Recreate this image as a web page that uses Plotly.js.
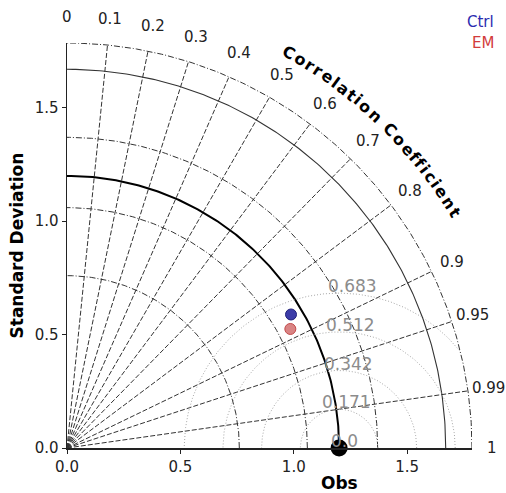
<!DOCTYPE html>
<html><head><meta charset="utf-8">
<script src="https://cdn.plot.ly/plotly-3.0.1.min.js"></script>
<style>html,body{margin:0;padding:0;background:#fff}</style>
</head><body><div id="chart" style="width:506px;height:493px"></div>
<script>
// ---- data ----
const corrTicks = [0, 0.1, 0.2, 0.3, 0.4, 0.5, 0.6, 0.7, 0.8, 0.9, 0.95, 0.99, 1];
const corrTickLabels = ['0', '0.1', '0.2', '0.3', '0.4', '0.5', '0.6', '0.7', '0.8', '0.9', '0.95', '0.99', '1'];
const stdTicks = [0, 0.5, 1.0, 1.5];
const stdTickLabels = ['0.0', '0.5', '1.0', '1.5'];
const stdArcsDashDot = [0.76, 1.06, 1.37];
const stdArcsSolid = [1.67];
const refStd = 1.2;
const maxStd = 1.786;
const rmsLevels = [0.0, 0.171, 0.342, 0.512, 0.683];
const rmsLabels = ['0.0', '0.171', '0.342', '0.512', '0.683'];
const modelNames = ['Ctrl', 'EM'];
const modelStd = [1.150, 1.116];
const modelCorr = [0.859, 0.8825];
const refName = 'Obs';
const corrTitle = 'Correlation Coefficient';
const stdTitle = 'Standard Deviation';

// ---- styles ----
const FONT = '"DejaVu Sans", sans-serif';
const gridColor = '#333';
const modelFill = ['#3c3ca8', '#d98484'];
const modelEdge = ['#23237a', '#c24a4a'];
const legendColor = ['#2b2bb0', '#d23c3c'];

const traces = [];
function arcXY(r, n) {
  const x = [], y = [];
  for (let i = 0; i <= n; i++) { const t = Math.PI / 2 * i / n; x.push(r * Math.cos(t)); y.push(r * Math.sin(t)); }
  return {x, y};
}
// radial correlation lines
corrTicks.forEach(c => {
  if (c <= 0 || c >= 1) return;
  const t = Math.acos(c);
  traces.push({type: 'scatter', mode: 'lines', x: [0, maxStd * Math.cos(t)], y: [0, maxStd * Math.sin(t)],
    line: {color: gridColor, width: 1, dash: '5px,2px'}, hoverinfo: 'skip', showlegend: false});
});
// std arcs
stdArcsDashDot.concat([maxStd]).forEach(r => {
  const a = arcXY(r, 200);
  traces.push({type: 'scatter', mode: 'lines', x: a.x, y: a.y,
    line: {color: gridColor, width: 1, dash: '6px,2px,1px,2px'}, hoverinfo: 'skip', showlegend: false});
});
stdArcsSolid.forEach(r => {
  const a = arcXY(r, 200);
  traces.push({type: 'scatter', mode: 'lines', x: a.x, y: a.y,
    line: {color: gridColor, width: 1.1}, hoverinfo: 'skip', showlegend: false});
});
{
  const a = arcXY(refStd, 200);
  traces.push({type: 'scatter', mode: 'lines', x: a.x, y: a.y,
    line: {color: '#000', width: 2}, hoverinfo: 'skip', showlegend: false});
}
// RMS contours
rmsLevels.forEach(r => {
  if (r <= 0) return;
  const x = [], y = [];
  for (let i = 0; i <= 240; i++) {
    const t = Math.PI * i / 240;
    const px = refStd + r * Math.cos(t), py = r * Math.sin(t);
    if (Math.hypot(px, py) <= maxStd && px >= 0) { x.push(px); y.push(py); } else { x.push(null); y.push(null); }
  }
  traces.push({type: 'scatter', mode: 'lines', x, y, connectgaps: false,
    line: {color: '#a8a8a8', width: 1, dash: '1px,2px'}, hoverinfo: 'skip', showlegend: false});
});
// models
modelNames.forEach((n, i) => {
  traces.push({type: 'scatter', mode: 'markers', name: n, cliponaxis: false,
    x: [modelStd[i] * modelCorr[i]], y: [modelStd[i] * Math.sin(Math.acos(modelCorr[i]))],
    marker: {size: 11, color: modelFill[i], line: {color: modelEdge[i], width: 1}}, showlegend: false});
});
// reference
traces.push({type: 'scatter', mode: 'markers', name: refName, cliponaxis: false, x: [refStd], y: [0],
  marker: {size: 17, color: '#000'}, showlegend: false});

const annotations = [];
const toPaper = v => v / maxStd;
// correlation tick labels
corrTicks.forEach((c, i) => {
  const t = Math.acos(c);
  const labR = 1.872 + 0.03 * Math.sin(t);
  annotations.push({xref: 'paper', yref: 'paper', x: toPaper(labR * Math.cos(t)), y: toPaper(labR * Math.sin(t)),
    text: corrTickLabels[i], showarrow: false, xanchor: 'center', yanchor: 'middle',
    font: {family: FONT, size: 15, color: '#222'}});
});
// RMS labels
rmsLevels.forEach((r, i) => {
  const t = 87 * Math.PI / 180;
  annotations.push({xref: 'x', yref: 'y', x: refStd + r * Math.cos(t), y: r * Math.sin(t),
    text: rmsLabels[i], showarrow: false, xanchor: 'center', yanchor: 'middle', xshift: 5, yshift: 7,
    font: {family: FONT, size: 17, color: '#8c8c8c'}});
});
// curved title
{
  const ctx = document.createElement('canvas').getContext('2d');
  const fs = 16;
  ctx.font = 'bold ' + fs + 'px "DejaVu Sans"';
  const chars = [...corrTitle];
  const w = chars.map(ch => ctx.measureText(ch).width);
  const s = []; let acc = 0;
  chars.forEach((ch, i) => { s.push(acc + w[i] / 2 - w[0] / 2); acc += w[i]; });
  const R = 2.0, th0 = 60.7 * Math.PI / 180, th1 = 31.3 * Math.PI / 180;
  const k = (th0 - th1) / s[s.length - 1];
  chars.forEach((ch, i) => {
    if (ch === ' ') return;
    const th = th0 - s[i] * k;
    annotations.push({xref: 'paper', yref: 'paper', x: toPaper(R * Math.cos(th)), y: toPaper(R * Math.sin(th)),
      text: '<b>' + ch + '</b>', showarrow: false, xanchor: 'center', yanchor: 'middle',
      textangle: 90 - th * 180 / Math.PI, font: {family: FONT, size: fs, color: '#000'}});
  });
}
// axis titles
annotations.push({xref: 'paper', yref: 'paper', x: -0.1235, y: 0.5, text: '<b>' + stdTitle + '</b>', textangle: -90,
  showarrow: false, xanchor: 'center', yanchor: 'middle', font: {family: FONT, size: 17, color: '#000'}});
annotations.push({xref: 'x', yref: 'paper', x: refStd, y: -0.086, text: '<b>' + refName + '</b>',
  showarrow: false, xanchor: 'center', yanchor: 'middle', font: {family: FONT, size: 17, color: '#000'}});
// legend
modelNames.forEach((n, i) => {
  annotations.push({xref: 'paper', yref: 'paper', x: 1.059, y: [1.053, 1.0][i], text: n, showarrow: false,
    xanchor: 'right', yanchor: 'middle', font: {family: FONT, size: 15, color: legendColor[i]}});
});

const axisCommon = {range: [0, maxStd], showgrid: false, zeroline: false, showline: true, linecolor: '#222', linewidth: 1.5,
  ticks: 'outside', ticklen: 4, tickwidth: 1, tickcolor: '#222', tickvals: stdTicks, ticktext: stdTickLabels,
  tickfont: {family: FONT, size: 15, color: '#222'}, fixedrange: true};
const layout = {
  width: 506, height: 493, margin: {l: 67, r: 34, t: 43, b: 45},
  paper_bgcolor: '#fff', plot_bgcolor: '#fff', showlegend: false,
  xaxis: Object.assign({}, axisCommon, {linewidth: 2}),
  yaxis: Object.assign({}, axisCommon),
  annotations
};
Plotly.newPlot('chart', traces, layout, {staticPlot: true});
</script></body></html>
